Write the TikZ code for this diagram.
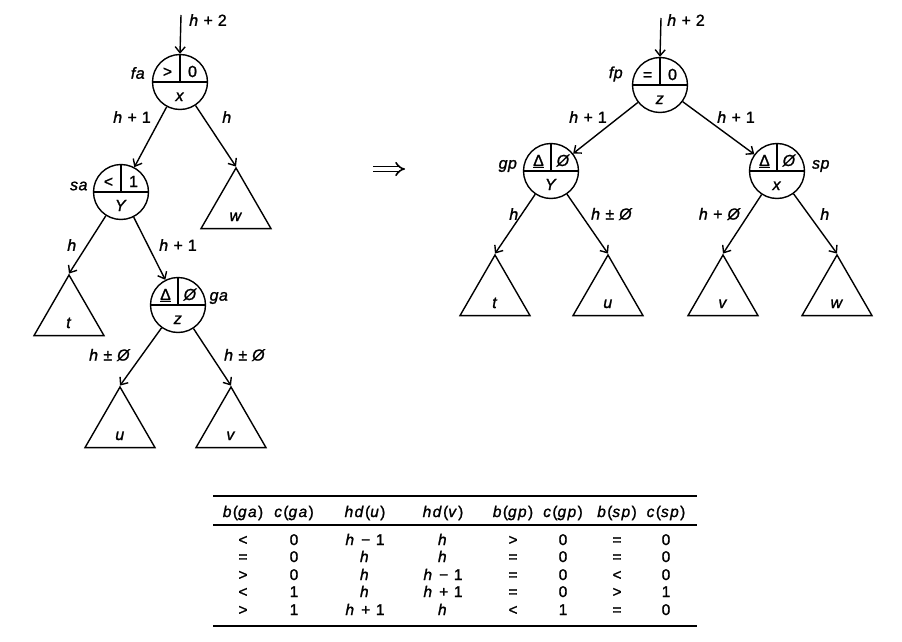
\documentclass[tikz,border=0pt]{standalone}
\usepackage{fontspec}
\setmainfont[LetterSpace=3,FakeBold=1.3]{Liberation Sans}
\newfontfamily\tabfont[LetterSpace=9,FakeBold=1.3]{Liberation Sans}
\usetikzlibrary{arrows.meta,shapes.geometric}
\newcommand{\hv}{\textit{h}}
\newcommand{\es}{\textit{Ø}}
\newcommand{\dl}{\underline{Δ}}
\tikzset{
  lw/.style={line width=1.4pt},
  avl/.style={circle, draw, lw, minimum size=55pt, inner sep=0pt},
  tri/.style={regular polygon, regular polygon sides=3, draw, lw, minimum size=80.8pt, inner sep=0pt},
  edge/.style={lw, -{Straight Barb[length=6pt,width=10pt]}},
  lbl/.style={font=\fontsize{16}{16}\selectfont, inner sep=0pt},
  cell/.style={font=\tabfont\fontsize{15.5}{16}\selectfont, inner sep=0pt, anchor=base},
  rulethick/.style={line width=2.6pt},
  rulethin/.style={line width=1.1pt},
  impl/.style={double, double distance=3.2pt, line width=1.6pt, -{Implies}}
}
\newcommand{\avlnode}[6]{%
  \node[avl] (#1) at (#2,#3) {};
  \draw[lw] (#1.west) -- (#1.east);
  \draw[lw] (#1.north) -- (#1.center);
  \node[lbl, anchor=base] (#1-l) at ([xshift=-12.5pt,yshift=5pt]#1.center) {#4};
  \node[lbl, anchor=base] (#1-r) at ([xshift=12.5pt,yshift=5pt]#1.center) {#5};
  \node[lbl, anchor=base] (#1-b) at ([yshift=-19pt]#1.center) {#6};
}
\newcommand{\subtree}[4]{% name, apex x, apex y, label
  \node[tri] (#1) at (#2,#3+40.4) {};
  \node[lbl, anchor=base] (#1-t) at (#2,#3+53) {\textit{#4}};
}
\newcommand{\tabrow}[9]{%
  \foreach \x/\t [count=\c] in {243/{#2},294/{#3},365/{#4},443/{#5},513/{#6},563/{#7},617/{#8},666/{#9}}
    {\node[cell] (r#1c\c) at (\x,\rowy) {\t};}
}
\begin{document}
\begin{tikzpicture}[x=1pt,y=-1pt]
\fill[white] (0,0) rectangle (902,642);
\useasboundingbox (0,0) rectangle (902,642);

% ---------- left tree ----------
\avlnode{fa}{180}{82}{>}{0}{\textit{x}}
\avlnode{sa}{121}{192}{<}{1}{\textit{Y}}
\avlnode{ga}{178}{305}{\dl}{\es}{\textit{z}}
\subtree{lw}{236}{168}{w}
\subtree{lt}{69}{275}{t}
\subtree{lu}{120}{387}{u}
\subtree{lv}{231}{387}{v}

\coordinate (fain) at (181,15);
\draw[edge] (fain) -- (fa.north);
\draw[edge] (fa) -- (sa);
\draw[edge] (fa) -- (lw.corner 1);
\draw[edge] (sa) -- (lt.corner 1);
\draw[edge] (sa) -- (ga);
\draw[edge] (ga) -- (lu.corner 1);
\draw[edge] (ga) -- (lv.corner 1);

\node[lbl] (l-h2) at (208,20) {\hv\ + 2};
\node[lbl] (l-fa) at (138,73) {\textit{fa}};
\node[lbl] (l-sa) at (79,186) {\textit{sa}};
\node[lbl] (l-ga) at (219,298) {\textit{ga}};
\node[lbl] (l-e1) at (132,117) {\hv\ + 1};
\node[lbl] (l-e2) at (227,117) {\hv};
\node[lbl] (l-e3) at (72,245) {\hv};
\node[lbl] (l-e4) at (178,245) {\hv\ + 1};
\node[lbl] (l-e5) at (110,355) {\hv\ ± \es};
\node[lbl] (l-e6) at (245,355) {\hv\ ± \es};

% ---------- implies ----------
\coordinate (implA) at (373,169);
\coordinate (implB) at (405,169);
\draw[impl] (implA) -- (implB);

% ---------- right tree ----------
\avlnode{fp}{660}{85}{=}{0}{\textit{z}}
\avlnode{gp}{551}{171}{\dl}{\es}{\textit{Y}}
\avlnode{sp}{777}{171}{\dl}{\es}{\textit{x}}
\subtree{rt}{495}{255}{t}
\subtree{ru}{608}{255}{u}
\subtree{rv}{723}{255}{v}
\subtree{rw}{837}{255}{w}

\coordinate (fpin) at (661,18);
\draw[edge] (fpin) -- (fp.north);
\draw[edge] (fp) -- (gp);
\draw[edge] (fp) -- (sp);
\draw[edge] (gp) -- (rt.corner 1);
\draw[edge] (gp) -- (ru.corner 1);
\draw[edge] (sp) -- (rv.corner 1);
\draw[edge] (sp) -- (rw.corner 1);

\node[lbl] (r-h2) at (686,20) {\hv\ + 2};
\node[lbl] (r-fp) at (616,74) {\textit{fp}};
\node[lbl] (r-gp) at (508,166) {\textit{gp}};
\node[lbl] (r-sp) at (821,166) {\textit{sp}};
\node[lbl] (r-e1) at (588,117) {\hv\ + 1};
\node[lbl] (r-e2) at (736,117) {\hv\ + 1};
\node[lbl] (r-e3) at (514,214) {\hv};
\node[lbl] (r-e4) at (612,214) {\hv\ ± \es};
\node[lbl] (r-e5) at (720,214) {\hv\ + \es};
\node[lbl] (r-e6) at (825,214) {\hv};

% ---------- table ----------
\draw[rulethick] (213,496) -- (697,496);
\draw[rulethin] (213,525) -- (697,525);
\draw[rulethick] (213,626) -- (697,626);
\def\rowy{517}
\tabrow{0}{\textit{b}(\textit{ga})}{\textit{c}(\textit{ga})}{\textit{hd}(\textit{u})}{\textit{hd}(\textit{v})}{\textit{b}(\textit{gp})}{\textit{c}(\textit{gp})}{\textit{b}(\textit{sp})}{\textit{c}(\textit{sp})}
\def\rowy{545}
\tabrow{1}{<}{0}{\hv\ − 1}{\hv}{>}{0}{=}{0}
\def\rowy{562}
\tabrow{2}{=}{0}{\hv}{\hv}{=}{0}{=}{0}
\def\rowy{580}
\tabrow{3}{>}{0}{\hv}{\hv\ − 1}{=}{0}{<}{0}
\def\rowy{597}
\tabrow{4}{<}{1}{\hv}{\hv\ + 1}{=}{0}{>}{1}
\def\rowy{615}
\tabrow{5}{>}{1}{\hv\ + 1}{\hv}{<}{1}{=}{0}
\end{tikzpicture}
\end{document}
